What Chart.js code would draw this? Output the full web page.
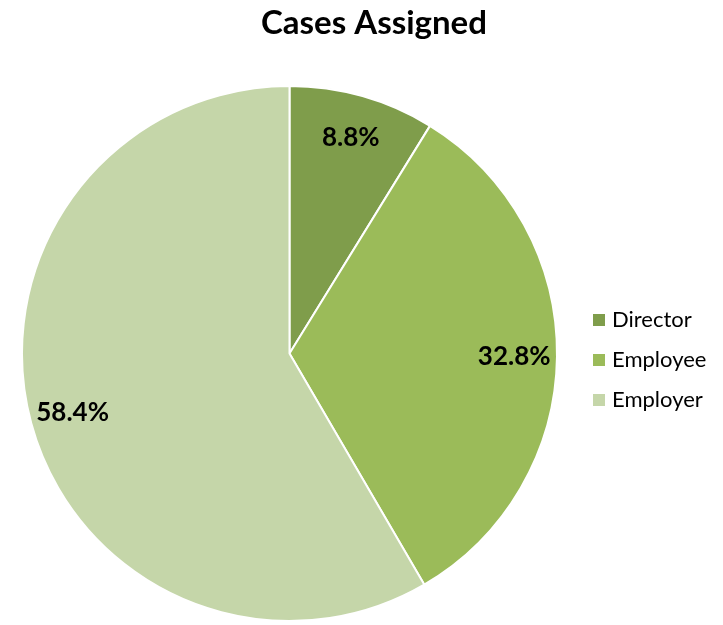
<!DOCTYPE html>
<html>
<head>
<meta charset="utf-8">
<script src="https://cdn.jsdelivr.net/npm/chart.js@4/dist/chart.umd.min.js"></script>
<style>
  html, body { margin: 0; padding: 0; background: #fff; }
  #wrap { width: 723px; height: 625px; position: relative; }
</style>
</head>
<body>
<div id="wrap"><canvas id="myChart" width="723" height="625"></canvas></div>
<script>
const categories = ['Director', 'Employee', 'Employer'];
const shares = [8.8, 32.8, 58.4];
const sliceColors = ['#7f9d4b', '#9bbb59', '#c5d6a9'];

const FONT = 'Lato, "Open Sans", sans-serif';

// titulo, leyenda y etiquetas de porcentaje
const extras = {
    id: 'extras',
    afterDraw(chart) {
        const ctx = chart.ctx;
        ctx.save();
        ctx.fillStyle = '#000';
        ctx.textAlign = 'center';
        ctx.textBaseline = 'middle';
        ctx.font = 'bold 33px ' + FONT;
        ctx.fillText('Cases Assigned', 374, 23);

        const meta = chart.getDatasetMeta(0);
        ctx.font = 'bold 26px ' + FONT;
        meta.data.forEach((arc, i) => {
            const p = arc.getProps(['x', 'y', 'startAngle', 'endAngle', 'outerRadius'], true);
            const mid = (p.startAngle + p.endAngle) / 2;
            const r = p.outerRadius * 0.84;
            ctx.fillText(shares[i].toFixed(1) + '%', p.x + Math.cos(mid) * r, p.y + Math.sin(mid) * r);
        });

        ctx.textAlign = 'left';
        ctx.font = '22px ' + FONT;
        categories.forEach((c, i) => {
            const y = 320 + i * 40;
            ctx.fillStyle = sliceColors[i];
            ctx.fillRect(593, y - 6, 12, 12);
            ctx.fillStyle = '#000';
            ctx.fillText(c, 612, y);
        });
        ctx.restore();
    }
};

new Chart(document.getElementById('myChart'), {
    type: 'pie',
    data: {
        labels: categories,
        datasets: [{
            data: shares,
            backgroundColor: sliceColors,
            borderColor: '#ffffff',
            borderWidth: 2
        }]
    },
    options: {
        responsive: false,
        animation: false,
        layout: {
            padding: { left: 21, right: 165, top: 85, bottom: 3 }
        },
        plugins: {
            legend: { display: false },
            title: { display: false },
            tooltip: { enabled: false }
        }
    },
    plugins: [extras]
});
</script>
</body>
</html>
